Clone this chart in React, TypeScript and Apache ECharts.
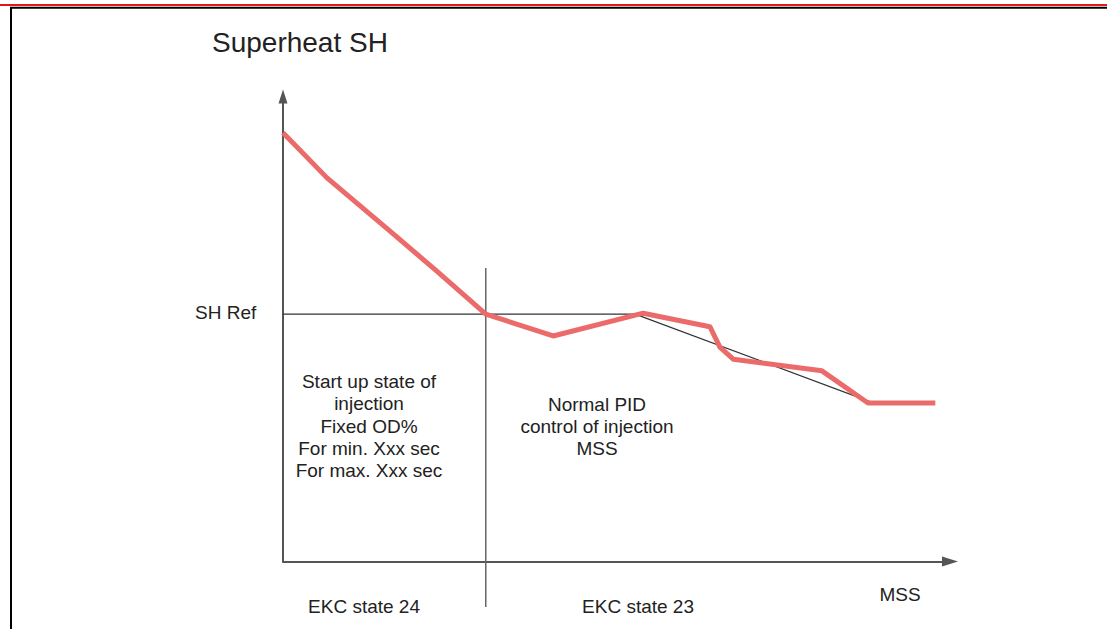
import React, { useEffect, useRef } from "react";
import * as echarts from "echarts";

// Superheat curve (x: MSS time units 0..100, y: superheat units 0..100)
const superheatX = [0, 6.6, 16.0, 23.1, 30.4, 40.5, 54.0, 64.0, 65.5, 67.5, 80.8, 87.7, 97.8];
const superheatY = [92.2, 82.5, 71.1, 62.4, 53.2, 48.5, 53.4, 50.5, 46.1, 43.5, 41.0, 34.1, 34.1];

// SH reference line (flat, then ramp down)
const shRefX = [0, 52.8, 88.5];
const shRefY = [53.2, 53.2, 34.1];

// State divider
const dividerX = [30.4, 30.4];
const dividerY = [63.1, -9.8];

const titleText = "Superheat SH";
const shRefLabel = "SH Ref";
const axisXName = "MSS";
const startupLines = ["Start up state of", "injection", "Fixed OD%", "For min. Xxx sec", "For max. Xxx sec"];
const pidLines = ["Normal PID", "control of injection", "MSS"];
const stateLabels = ["EKC state 24", "EKC state 23"];

const FONT = "'Liberation Sans', Arial, Helvetica, sans-serif";
const TEXT_COLOR = "#222";

export default function App() {
  const ref = useRef<HTMLDivElement>(null);
  useEffect(() => {
    if (!ref.current) return;
    const chart = echarts.init(ref.current, undefined, { renderer: "svg" });
    const zip = (xs: number[], ys: number[]) => xs.map((x, i) => [x, ys[i]]);
    const axisCommon = {
      type: "value" as const,
      min: 0,
      max: 100,
      axisTick: { show: false },
      axisLabel: { show: false },
      splitLine: { show: false },
    };
    chart.setOption({
      animation: false,
      backgroundColor: "#fff",
      grid: { left: 283, right: 157, top: 96.5, bottom: 67.5, containLabel: false },
      xAxis: {
        ...axisCommon,
        axisLine: {
          show: true,
          symbol: ["none", "triangle"],
          symbolSize: [10, 16],
          lineStyle: { color: "#555", width: 2 },
        },
      },
      yAxis: {
        ...axisCommon,
        axisLine: {
          show: true,
          symbol: ["none", "triangle"],
          symbolSize: [9, 14],
          lineStyle: { color: "#555", width: 2 },
        },
      },
      series: [
        {
          type: "line",
          data: zip(dividerX, dividerY),
          symbol: "none",
          clip: false,
          lineStyle: { color: "#666", width: 1.5 },
          z: 1,
        },
        {
          type: "line",
          data: zip(shRefX, shRefY),
          symbol: "none",
          lineStyle: { color: "#333", width: 1.2 },
          z: 2,
        },
        {
          type: "line",
          data: zip(superheatX, superheatY),
          symbol: "none",
          lineStyle: { color: "#eb6b6b", width: 5, join: "round" },
          z: 3,
        },
      ],
      graphic: [
        { type: "line", shape: { x1: 0, y1: 5, x2: 1107, y2: 5 }, style: { stroke: "#e8141b", lineWidth: 2 } },
        { type: "line", shape: { x1: 10, y1: 7.7, x2: 1107, y2: 7.7 }, style: { stroke: "#000", lineWidth: 2 } },
        { type: "line", shape: { x1: 11, y1: 7, x2: 11, y2: 629 }, style: { stroke: "#000", lineWidth: 2 } },
        {
          type: "text", x: 212, y: 42,
          style: { text: titleText, fontSize: 28, fontFamily: FONT, fill: TEXT_COLOR, textAlign: "left", textVerticalAlign: "middle" },
        },
        {
          type: "text", x: 195, y: 312,
          style: { text: shRefLabel, fontSize: 19, fontFamily: FONT, fill: TEXT_COLOR, textAlign: "left", textVerticalAlign: "middle" },
        },
        {
          type: "text", x: 369, y: 426,
          style: { text: startupLines.join("\n"), fontSize: 19, lineHeight: 22.3, fontFamily: FONT, fill: TEXT_COLOR, textAlign: "center", textVerticalAlign: "middle" },
        },
        {
          type: "text", x: 597, y: 426.5,
          style: { text: pidLines.join("\n"), fontSize: 19, lineHeight: 22.3, fontFamily: FONT, fill: TEXT_COLOR, textAlign: "center", textVerticalAlign: "middle" },
        },
        {
          type: "text", x: 364, y: 606,
          style: { text: stateLabels[0], fontSize: 19, fontFamily: FONT, fill: TEXT_COLOR, textAlign: "center", textVerticalAlign: "middle" },
        },
        {
          type: "text", x: 638, y: 606,
          style: { text: stateLabels[1], fontSize: 19, fontFamily: FONT, fill: TEXT_COLOR, textAlign: "center", textVerticalAlign: "middle" },
        },
        {
          type: "text", x: 900, y: 594,
          style: { text: axisXName, fontSize: 19, fontFamily: FONT, fill: TEXT_COLOR, textAlign: "center", textVerticalAlign: "middle" },
        },
      ],
    });
    return () => chart.dispose();
  }, []);
  return (
    <div
      ref={ref}
      style={{ position: "absolute", left: 0, top: 0, width: 1107, height: 629, background: "#fff" }}
    />
  );
}
